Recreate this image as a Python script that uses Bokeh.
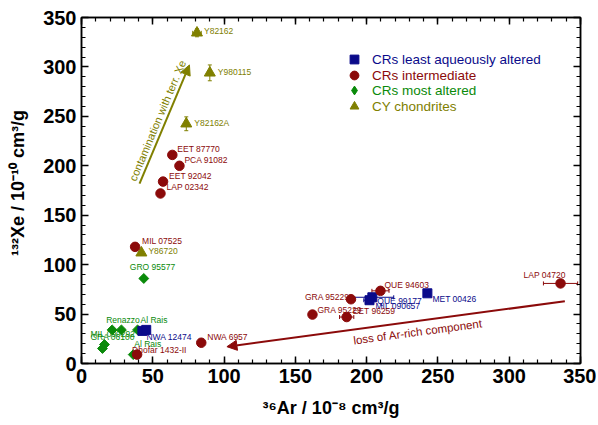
import numpy as np
from bokeh.plotting import figure
from bokeh.models import (ColumnDataSource, LinearAxis, SingleIntervalTicker, Whisker, TeeHead,
                          Arrow, NormalHead, Label, Legend, LegendItem, Range1d)
from bokeh.core.properties import value
from bokeh.embed import file_html
from bokeh.resources import INLINE

# ---------------- data ----------------
# CRs least aqueously altered
least_names = ["NWA 12474", "", "QUE 99177", "MIL 090657", "MET 00426"]
least_ar = [42.7, 45.4, 204.0, 202.0, 242.6]
least_xe = [33.0, 34.0, 67.0, 64.0, 71.0]
least_ar_err = [0, 0, 15, 4, 0]

# CRs intermediate
inter_names = ["EET 87770", "PCA 91082", "EET 92042", "LAP 02342", "MIL 07525", "NWA 6957",
               "Dhofar 1432-II", "GRA 95229", "GRA 95229", "EET 96259", "QUE 94603", "LAP 04720"]
inter_ar = [63.7, 68.7, 57.2, 55.4, 37.6, 84.0, 39.0, 189.0, 162.0, 186.0, 209.7, 336.0]
inter_xe = [211.0, 200.0, 184.0, 172.0, 118.0, 21.0, 9.0, 65.0, 49.5, 47.0, 73.5, 81.0]
inter_ar_err = [0, 0, 0, 0, 0, 0, 0, 0, 0, 5, 6, 12]

# CRs most altered
most_names = ["GRO 95577", "Renazzo", "", "Al Rais", "MIL 090292", "GRA 06100", "Al Rais"]
most_ar = [43.7, 21.5, 28.0, 39.3, 16.1, 14.7, 36.3]
most_xe = [86.0, 34.0, 34.0, 34.0, 19.2, 15.2, 9.0]

# CY chondrites
cy_names = ["Y82162", "Y980115", "Y82162A", "Y86720"]
cy_ar = [81.0, 90.0, 73.5, 42.0]
cy_xe = [334.5, 294.0, 242.5, 112.0]
cy_ar_err = [3, 0, 0, 0]
cy_xe_err = [4, 8, 7, 0]

# trend arrows (data coordinates)
terr_arrow = [40.7, 182.0, 75.7, 302.0]     # x0, y0, x1, y1
arrich_arrow = [339.0, 63.0, 102.0, 17.0]   # x0, y0, x1, y1 (head at x1, y1)

legend_labels = ["CRs least aqueously altered", "CRs intermediate", "CRs most altered", "CY chondrites"]
ticks_major = 50
tick_values = [0, 50, 100, 150, 200, 250, 300, 350]

# ---------------- styles ----------------
C_BLUE = "#0a0a8a"
C_RED = "#8b0a0a"
C_GREEN = "#0a8a0a"
C_OLIVE = "#808000"

least_dx = [4, 0, 5, 6, 5]
least_dy = [6, 0, 4, 6, 6]
inter_dx = [5, 5, 6, 6, 7, 6, -5, -46, 5, 6, 4, -37]
inter_dy = [-6, -6, -6, -6, -6, -6, -5, -2, -5, -6, -6, -8]
most_dx = [-14, -6, 0, 3, -14, -12, 1]
most_dy = [-11, -10, 0, -10, -11, -11, -11]
cy_dx = [7, 8, 8, 7]
cy_dy = [-2, -1, -1, -2]

FONT = "Liberation Sans"

p = figure(width=596, height=423, x_range=Range1d(0, 350), y_range=Range1d(0, 350),
           output_backend="svg", toolbar_location=None,
           min_border_left=81, min_border_right=16, min_border_top=17, min_border_bottom=60)
p.xgrid.visible = False
p.ygrid.visible = False
p.outline_line_color = "black"
p.outline_line_width = 1.5
p.background_fill_color = "white"
p.border_fill_color = "white"

def style_axis(ax, labels=True):
    ax.ticker = SingleIntervalTicker(interval=ticks_major, num_minor_ticks=5)
    ax.major_tick_in = 7
    ax.major_tick_out = 0
    ax.minor_tick_in = 4
    ax.minor_tick_out = 0
    ax.axis_line_width = 1.5
    ax.major_tick_line_width = 1.5
    ax.minor_tick_line_width = 1.2
    ax.axis_line_color = "black"
    if labels:
        ax.major_label_text_font = FONT
        ax.major_label_text_font_style = "bold"
        ax.major_label_text_font_size = "20px"
        ax.major_label_text_color = "black"
        ax.major_label_standoff = 5
        ax.axis_label_text_font = FONT
        ax.axis_label_text_font_style = "bold"
        ax.axis_label_text_font_size = "18px"
        ax.axis_label_text_color = "black"
    else:
        ax.major_label_overrides = {v: "" for v in tick_values}
        ax.major_label_standoff = 0

style_axis(p.xaxis[0])
style_axis(p.yaxis[0])
p.xaxis.axis_label_standoff = 12
p.yaxis.axis_label_standoff = 12
p.xaxis.axis_label = "³⁶Ar / 10⁻⁸ cm³/g"
p.yaxis.axis_label = "\u00a0\u00a0\u00a0¹³²Xe / 10⁻¹⁰ cm³/g"
top = LinearAxis()
style_axis(top, labels=False)
p.add_layout(top, "above")
right = LinearAxis()
style_axis(right, labels=False)
p.add_layout(right, "right")

def add_errors(xs, ys, xerr, yerr, color):
    xs = np.asarray(xs, float); ys = np.asarray(ys, float)
    if xerr is not None:
        e = np.asarray(xerr, float); m = e > 0
        if m.any():
            src = ColumnDataSource(dict(y=ys[m], lo=(xs - e)[m], hi=(xs + e)[m]))
            p.add_layout(Whisker(source=src, base="y", lower="lo", upper="hi", dimension="width",
                                 line_color=color, line_width=1,
                                 lower_head=TeeHead(size=4, line_color=color),
                                 upper_head=TeeHead(size=4, line_color=color)))
    if yerr is not None:
        e = np.asarray(yerr, float); m = e > 0
        if m.any():
            src = ColumnDataSource(dict(x=xs[m], lo=(ys - e)[m], hi=(ys + e)[m]))
            p.add_layout(Whisker(source=src, base="x", lower="lo", upper="hi", dimension="height",
                                 line_color=color, line_width=1,
                                 lower_head=TeeHead(size=4, line_color=color),
                                 upper_head=TeeHead(size=4, line_color=color)))

def add_labels(xs, ys, names, dx, dy, color):
    src = ColumnDataSource(dict(x=xs, y=ys, t=names, dx=dx, dy=dy))
    p.text(x="x", y="y", text="t", x_offset="dx", y_offset="dy", source=src,
           text_color=color, text_font=value(FONT), text_font_size="8.5px",
           text_align="left", text_baseline="middle")

# error bars
add_errors(least_ar, least_xe, least_ar_err, None, C_BLUE)
add_errors(inter_ar, inter_xe, inter_ar_err, None, C_RED)
add_errors(cy_ar, cy_xe, cy_ar_err, cy_xe_err, C_OLIVE)

# markers
r_most = p.scatter(most_ar, most_xe, marker="square", angle=np.pi / 4, size=7,
                   fill_color=C_GREEN, line_color=C_GREEN)
r_cy = p.scatter(cy_ar, cy_xe, marker="triangle", size=11, fill_color=C_OLIVE, line_color=C_OLIVE)
r_least = p.scatter(least_ar, least_xe, marker="square", size=9, fill_color=C_BLUE, line_color=C_BLUE)
r_inter = p.scatter(inter_ar, inter_xe, marker="circle", size=9.5, fill_color=C_RED, line_color=C_RED)
# legend-only swatch for the diamonds (legend swatches ignore rotation); NaN -> nothing drawn
r_most_leg = p.scatter(x=[np.nan], y=[np.nan], marker="diamond", size=10,
                       fill_color=C_GREEN, line_color=C_GREEN)

# labels
add_labels(most_ar, most_xe, most_names, most_dx, most_dy, C_GREEN)
add_labels(cy_ar, cy_xe, cy_names, cy_dx, cy_dy, C_OLIVE)
add_labels(least_ar, least_xe, least_names, least_dx, least_dy, C_BLUE)
add_labels(inter_ar, inter_xe, inter_names, inter_dx, inter_dy, C_RED)

# arrows
p.add_layout(Arrow(x_start=terr_arrow[0], y_start=terr_arrow[1], x_end=terr_arrow[2], y_end=terr_arrow[3],
                   line_color=C_OLIVE, line_width=2,
                   end=NormalHead(size=10, fill_color=C_OLIVE, line_color=C_OLIVE)))
p.add_layout(Arrow(x_start=arrich_arrow[0], y_start=arrich_arrow[1], x_end=arrich_arrow[2], y_end=arrich_arrow[3],
                   line_color=C_RED, line_width=2,
                   end=NormalHead(size=10, fill_color=C_RED, line_color=C_RED)))
p.add_layout(Label(x=53.3, y=245.7, text="contamination with terr. Xe", angle=1.173,
                   text_align="center", text_baseline="middle", text_color=C_OLIVE,
                   text_font=FONT, text_font_size="11px"))
p.add_layout(Label(x=236, y=32, text="loss of Ar-rich component", angle=0.133,
                   text_align="center", text_baseline="middle", text_color=C_RED,
                   text_font=FONT, text_font_size="11.5px"))

# legends (one per series so each label can have its own colour)
leg_y = [293, 277, 262, 246]
for lab, r, col, yy in zip(legend_labels, [r_least, r_inter, r_most_leg, r_cy],
                           [C_BLUE, C_RED, C_GREEN, C_OLIVE], leg_y):
    leg = Legend(items=[LegendItem(label=lab, renderers=[r])], location=(262, yy),
                 border_line_color=None, background_fill_alpha=0, padding=0, margin=0, spacing=0,
                 glyph_width=22, glyph_height=22, label_height=22, label_standoff=7,
                 label_text_font=FONT, label_text_font_size="13.5px", label_text_color=col)
    p.add_layout(leg)

open("out.html", "w").write(file_html(p, INLINE))
